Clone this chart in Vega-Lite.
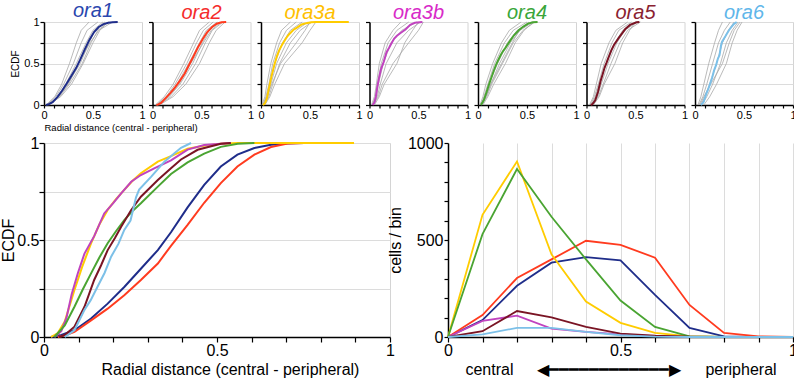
{
"$schema":"https://vega.github.io/schema/vega-lite/v6.json",
"background":"white",
"padding":{"left":0,"top":0,"right":0,"bottom":0},
"bounds":"flush",
"columns":7,
"spacing":{"row":38,"column":10.5},
"datasets":{
"mean":[
{"g":"ora1","x":0.02,"y":0},{"g":"ora1","x":0.05,"y":0.01},{"g":"ora1","x":0.088,"y":0.035},{"g":"ora1","x":0.136,"y":0.095},{"g":"ora1","x":0.184,"y":0.172},{"g":"ora1","x":0.232,"y":0.258},{"g":"ora1","x":0.28,"y":0.352},{"g":"ora1","x":0.329,"y":0.448},{"g":"ora1","x":0.367,"y":0.54},{"g":"ora1","x":0.415,"y":0.668},{"g":"ora1","x":0.463,"y":0.784},{"g":"ora1","x":0.511,"y":0.879},{"g":"ora1","x":0.559,"y":0.94},{"g":"ora1","x":0.608,"y":0.974},{"g":"ora1","x":0.656,"y":0.991},{"g":"ora1","x":0.7,"y":0.998},{"g":"ora1","x":0.752,"y":1},
{"g":"ora2","x":0.04,"y":0},{"g":"ora2","x":0.06,"y":0.008},{"g":"ora2","x":0.088,"y":0.026},{"g":"ora2","x":0.136,"y":0.086},{"g":"ora2","x":0.184,"y":0.146},{"g":"ora2","x":0.232,"y":0.215},{"g":"ora2","x":0.28,"y":0.294},{"g":"ora2","x":0.329,"y":0.379},{"g":"ora2","x":0.367,"y":0.47},{"g":"ora2","x":0.415,"y":0.578},{"g":"ora2","x":0.463,"y":0.692},{"g":"ora2","x":0.511,"y":0.793},{"g":"ora2","x":0.559,"y":0.879},{"g":"ora2","x":0.608,"y":0.94},{"g":"ora2","x":0.656,"y":0.979},{"g":"ora2","x":0.704,"y":0.997},{"g":"ora2","x":0.752,"y":1},
{"g":"ora3a","x":0.02,"y":0},{"g":"ora3a","x":0.04,"y":0.02},{"g":"ora3a","x":0.06,"y":0.08},{"g":"ora3a","x":0.088,"y":0.242},{"g":"ora3a","x":0.11,"y":0.36},{"g":"ora3a","x":0.136,"y":0.483},{"g":"ora3a","x":0.16,"y":0.58},{"g":"ora3a","x":0.184,"y":0.655},{"g":"ora3a","x":0.208,"y":0.71},{"g":"ora3a","x":0.232,"y":0.758},{"g":"ora3a","x":0.256,"y":0.805},{"g":"ora3a","x":0.28,"y":0.844},{"g":"ora3a","x":0.329,"y":0.904},{"g":"ora3a","x":0.367,"y":0.932},{"g":"ora3a","x":0.415,"y":0.97},{"g":"ora3a","x":0.463,"y":0.986},{"g":"ora3a","x":0.511,"y":0.996},{"g":"ora3a","x":0.56,"y":1},{"g":"ora3a","x":0.896,"y":1},
{"g":"ora3b","x":0.03,"y":0},{"g":"ora3b","x":0.05,"y":0.03},{"g":"ora3b","x":0.065,"y":0.1},{"g":"ora3b","x":0.08,"y":0.22},{"g":"ora3b","x":0.098,"y":0.33},{"g":"ora3b","x":0.117,"y":0.43},{"g":"ora3b","x":0.145,"y":0.52},{"g":"ora3b","x":0.174,"y":0.637},{"g":"ora3b","x":0.2,"y":0.69},{"g":"ora3b","x":0.223,"y":0.74},{"g":"ora3b","x":0.252,"y":0.8},{"g":"ora3b","x":0.28,"y":0.835},{"g":"ora3b","x":0.32,"y":0.87},{"g":"ora3b","x":0.367,"y":0.91},{"g":"ora3b","x":0.415,"y":0.966},{"g":"ora3b","x":0.463,"y":0.99},{"g":"ora3b","x":0.54,"y":1},
{"g":"ora4","x":0.03,"y":0},{"g":"ora4","x":0.06,"y":0.06},{"g":"ora4","x":0.088,"y":0.156},{"g":"ora4","x":0.112,"y":0.245},{"g":"ora4","x":0.136,"y":0.328},{"g":"ora4","x":0.16,"y":0.41},{"g":"ora4","x":0.184,"y":0.483},{"g":"ora4","x":0.208,"y":0.545},{"g":"ora4","x":0.232,"y":0.603},{"g":"ora4","x":0.256,"y":0.65},{"g":"ora4","x":0.28,"y":0.689},{"g":"ora4","x":0.329,"y":0.775},{"g":"ora4","x":0.367,"y":0.84},{"g":"ora4","x":0.415,"y":0.9},{"g":"ora4","x":0.463,"y":0.945},{"g":"ora4","x":0.511,"y":0.98},{"g":"ora4","x":0.56,"y":0.996},{"g":"ora4","x":0.608,"y":1},
{"g":"ora5","x":0.043,"y":0},{"g":"ora5","x":0.06,"y":0.01},{"g":"ora5","x":0.088,"y":0.053},{"g":"ora5","x":0.117,"y":0.156},{"g":"ora5","x":0.145,"y":0.294},{"g":"ora5","x":0.165,"y":0.37},{"g":"ora5","x":0.184,"y":0.448},{"g":"ora5","x":0.205,"y":0.51},{"g":"ora5","x":0.223,"y":0.568},{"g":"ora5","x":0.252,"y":0.655},{"g":"ora5","x":0.28,"y":0.723},{"g":"ora5","x":0.329,"y":0.809},{"g":"ora5","x":0.367,"y":0.87},{"g":"ora5","x":0.396,"y":0.915},{"g":"ora5","x":0.444,"y":0.965},{"g":"ora5","x":0.511,"y":0.996},{"g":"ora5","x":0.54,"y":1},
{"g":"ora6","x":0.06,"y":0},{"g":"ora6","x":0.088,"y":0.035},{"g":"ora6","x":0.117,"y":0.14},{"g":"ora6","x":0.135,"y":0.19},{"g":"ora6","x":0.155,"y":0.26},{"g":"ora6","x":0.175,"y":0.33},{"g":"ora6","x":0.194,"y":0.414},{"g":"ora6","x":0.215,"y":0.48},{"g":"ora6","x":0.232,"y":0.552},{"g":"ora6","x":0.25,"y":0.6},{"g":"ora6","x":0.258,"y":0.66},{"g":"ora6","x":0.266,"y":0.72},{"g":"ora6","x":0.275,"y":0.76},{"g":"ora6","x":0.31,"y":0.827},{"g":"ora6","x":0.348,"y":0.904},{"g":"ora6","x":0.377,"y":0.947},{"g":"ora6","x":0.396,"y":0.975},{"g":"ora6","x":0.425,"y":1}
],
"hist":[
{"g":"ora1","x":0,"n":0},{"g":"ora1","x":0.1,"n":87},{"g":"ora1","x":0.2,"n":264},{"g":"ora1","x":0.3,"n":383},{"g":"ora1","x":0.4,"n":412},{"g":"ora1","x":0.5,"n":395},{"g":"ora1","x":0.6,"n":217},{"g":"ora1","x":0.7,"n":47},{"g":"ora1","x":0.8,"n":3},{"g":"ora1","x":0.9,"n":0},{"g":"ora1","x":1,"n":0},
{"g":"ora2","x":0,"n":0},{"g":"ora2","x":0.1,"n":113},{"g":"ora2","x":0.2,"n":304},{"g":"ora2","x":0.3,"n":400},{"g":"ora2","x":0.4,"n":496},{"g":"ora2","x":0.5,"n":475},{"g":"ora2","x":0.6,"n":409},{"g":"ora2","x":0.7,"n":165},{"g":"ora2","x":0.8,"n":21},{"g":"ora2","x":0.9,"n":3},{"g":"ora2","x":1,"n":0},
{"g":"ora3a","x":0,"n":0},{"g":"ora3a","x":0.1,"n":630},{"g":"ora3a","x":0.2,"n":905},{"g":"ora3a","x":0.3,"n":426},{"g":"ora3a","x":0.4,"n":183},{"g":"ora3a","x":0.5,"n":73},{"g":"ora3a","x":0.6,"n":21},{"g":"ora3a","x":0.7,"n":3},{"g":"ora3a","x":0.8,"n":0},{"g":"ora3a","x":0.9,"n":0},{"g":"ora3a","x":1,"n":0},
{"g":"ora3b","x":0,"n":0},{"g":"ora3b","x":0.1,"n":83},{"g":"ora3b","x":0.2,"n":110},{"g":"ora3b","x":0.3,"n":43},{"g":"ora3b","x":0.4,"n":26},{"g":"ora3b","x":0.5,"n":14},{"g":"ora3b","x":0.6,"n":5},{"g":"ora3b","x":0.7,"n":0},{"g":"ora3b","x":0.8,"n":0},{"g":"ora3b","x":0.9,"n":0},{"g":"ora3b","x":1,"n":0},
{"g":"ora4","x":0,"n":0},{"g":"ora4","x":0.1,"n":530},{"g":"ora4","x":0.2,"n":866},{"g":"ora4","x":0.3,"n":620},{"g":"ora4","x":0.4,"n":400},{"g":"ora4","x":0.5,"n":188},{"g":"ora4","x":0.6,"n":52},{"g":"ora4","x":0.7,"n":3},{"g":"ora4","x":0.8,"n":0},{"g":"ora4","x":0.9,"n":0},{"g":"ora4","x":1,"n":0},
{"g":"ora5","x":0,"n":0},{"g":"ora5","x":0.1,"n":30},{"g":"ora5","x":0.2,"n":134},{"g":"ora5","x":0.3,"n":101},{"g":"ora5","x":0.4,"n":52},{"g":"ora5","x":0.5,"n":17},{"g":"ora5","x":0.6,"n":7},{"g":"ora5","x":0.7,"n":2},{"g":"ora5","x":0.8,"n":0},{"g":"ora5","x":0.9,"n":0},{"g":"ora5","x":1,"n":0},
{"g":"ora6","x":0,"n":0},{"g":"ora6","x":0.1,"n":14},{"g":"ora6","x":0.2,"n":47},{"g":"ora6","x":0.3,"n":47},{"g":"ora6","x":0.4,"n":26},{"g":"ora6","x":0.5,"n":9},{"g":"ora6","x":0.6,"n":2},{"g":"ora6","x":0.7,"n":0},{"g":"ora6","x":0.8,"n":0},{"g":"ora6","x":0.9,"n":0},{"g":"ora6","x":1,"n":0}
],
"gray":[
{"g":"ora1","c":1,"x":0.02,"y":0},{"g":"ora1","c":1,"x":0.11,"y":0.1},{"g":"ora1","c":1,"x":0.18,"y":0.25},{"g":"ora1","c":1,"x":0.26,"y":0.5},{"g":"ora1","c":1,"x":0.33,"y":0.75},{"g":"ora1","c":1,"x":0.38,"y":0.9},{"g":"ora1","c":1,"x":0.46,"y":1},
{"g":"ora1","c":2,"x":0.03,"y":0},{"g":"ora1","c":2,"x":0.12,"y":0.1},{"g":"ora1","c":2,"x":0.2,"y":0.25},{"g":"ora1","c":2,"x":0.3,"y":0.5},{"g":"ora1","c":2,"x":0.38,"y":0.75},{"g":"ora1","c":2,"x":0.44,"y":0.9},{"g":"ora1","c":2,"x":0.55,"y":1},
{"g":"ora1","c":3,"x":0.04,"y":0},{"g":"ora1","c":3,"x":0.14,"y":0.1},{"g":"ora1","c":3,"x":0.22,"y":0.25},{"g":"ora1","c":3,"x":0.33,"y":0.5},{"g":"ora1","c":3,"x":0.43,"y":0.75},{"g":"ora1","c":3,"x":0.5,"y":0.9},{"g":"ora1","c":3,"x":0.6,"y":1},
{"g":"ora1","c":4,"x":0.03,"y":0},{"g":"ora1","c":4,"x":0.15,"y":0.1},{"g":"ora1","c":4,"x":0.24,"y":0.25},{"g":"ora1","c":4,"x":0.37,"y":0.5},{"g":"ora1","c":4,"x":0.46,"y":0.75},{"g":"ora1","c":4,"x":0.52,"y":0.9},{"g":"ora1","c":4,"x":0.62,"y":1},
{"g":"ora1","c":5,"x":0.05,"y":0},{"g":"ora1","c":5,"x":0.16,"y":0.1},{"g":"ora1","c":5,"x":0.26,"y":0.25},{"g":"ora1","c":5,"x":0.39,"y":0.5},{"g":"ora1","c":5,"x":0.48,"y":0.75},{"g":"ora1","c":5,"x":0.55,"y":0.9},{"g":"ora1","c":5,"x":0.66,"y":1},
{"g":"ora1","c":6,"x":0.04,"y":0},{"g":"ora1","c":6,"x":0.17,"y":0.1},{"g":"ora1","c":6,"x":0.28,"y":0.25},{"g":"ora1","c":6,"x":0.4,"y":0.5},{"g":"ora1","c":6,"x":0.5,"y":0.75},{"g":"ora1","c":6,"x":0.57,"y":0.9},{"g":"ora1","c":6,"x":0.65,"y":1},
{"g":"ora1","c":7,"x":0.06,"y":0},{"g":"ora1","c":7,"x":0.15,"y":0.1},{"g":"ora1","c":7,"x":0.25,"y":0.25},{"g":"ora1","c":7,"x":0.35,"y":0.5},{"g":"ora1","c":7,"x":0.47,"y":0.75},{"g":"ora1","c":7,"x":0.56,"y":0.9},{"g":"ora1","c":7,"x":0.7,"y":1},
{"g":"ora2","c":1,"x":0.03,"y":0},{"g":"ora2","c":1,"x":0.12,"y":0.1},{"g":"ora2","c":1,"x":0.21,"y":0.25},{"g":"ora2","c":1,"x":0.32,"y":0.5},{"g":"ora2","c":1,"x":0.42,"y":0.75},{"g":"ora2","c":1,"x":0.48,"y":0.9},{"g":"ora2","c":1,"x":0.58,"y":1},
{"g":"ora2","c":2,"x":0.04,"y":0},{"g":"ora2","c":2,"x":0.14,"y":0.1},{"g":"ora2","c":2,"x":0.23,"y":0.25},{"g":"ora2","c":2,"x":0.35,"y":0.5},{"g":"ora2","c":2,"x":0.45,"y":0.75},{"g":"ora2","c":2,"x":0.52,"y":0.9},{"g":"ora2","c":2,"x":0.62,"y":1},
{"g":"ora2","c":3,"x":0.05,"y":0},{"g":"ora2","c":3,"x":0.15,"y":0.1},{"g":"ora2","c":3,"x":0.25,"y":0.25},{"g":"ora2","c":3,"x":0.37,"y":0.5},{"g":"ora2","c":3,"x":0.48,"y":0.75},{"g":"ora2","c":3,"x":0.55,"y":0.9},{"g":"ora2","c":3,"x":0.66,"y":1},
{"g":"ora2","c":4,"x":0.04,"y":0},{"g":"ora2","c":4,"x":0.17,"y":0.1},{"g":"ora2","c":4,"x":0.28,"y":0.25},{"g":"ora2","c":4,"x":0.41,"y":0.5},{"g":"ora2","c":4,"x":0.51,"y":0.75},{"g":"ora2","c":4,"x":0.58,"y":0.9},{"g":"ora2","c":4,"x":0.68,"y":1},
{"g":"ora2","c":5,"x":0.06,"y":0},{"g":"ora2","c":5,"x":0.19,"y":0.1},{"g":"ora2","c":5,"x":0.31,"y":0.25},{"g":"ora2","c":5,"x":0.44,"y":0.5},{"g":"ora2","c":5,"x":0.54,"y":0.75},{"g":"ora2","c":5,"x":0.61,"y":0.9},{"g":"ora2","c":5,"x":0.72,"y":1},
{"g":"ora2","c":6,"x":0.07,"y":0},{"g":"ora2","c":6,"x":0.21,"y":0.1},{"g":"ora2","c":6,"x":0.34,"y":0.25},{"g":"ora2","c":6,"x":0.48,"y":0.5},{"g":"ora2","c":6,"x":0.58,"y":0.75},{"g":"ora2","c":6,"x":0.65,"y":0.9},{"g":"ora2","c":6,"x":0.74,"y":1},
{"g":"ora2","c":7,"x":0.05,"y":0},{"g":"ora2","c":7,"x":0.16,"y":0.1},{"g":"ora2","c":7,"x":0.27,"y":0.25},{"g":"ora2","c":7,"x":0.39,"y":0.5},{"g":"ora2","c":7,"x":0.52,"y":0.75},{"g":"ora2","c":7,"x":0.6,"y":0.9},{"g":"ora2","c":7,"x":0.7,"y":1},
{"g":"ora3a","c":1,"x":0.01,"y":0},{"g":"ora3a","c":1,"x":0.04,"y":0.1},{"g":"ora3a","c":1,"x":0.06,"y":0.25},{"g":"ora3a","c":1,"x":0.1,"y":0.5},{"g":"ora3a","c":1,"x":0.16,"y":0.75},{"g":"ora3a","c":1,"x":0.21,"y":0.9},{"g":"ora3a","c":1,"x":0.3,"y":1},
{"g":"ora3a","c":2,"x":0.02,"y":0},{"g":"ora3a","c":2,"x":0.05,"y":0.1},{"g":"ora3a","c":2,"x":0.08,"y":0.25},{"g":"ora3a","c":2,"x":0.12,"y":0.5},{"g":"ora3a","c":2,"x":0.19,"y":0.75},{"g":"ora3a","c":2,"x":0.26,"y":0.9},{"g":"ora3a","c":2,"x":0.36,"y":1},
{"g":"ora3a","c":3,"x":0.02,"y":0},{"g":"ora3a","c":3,"x":0.06,"y":0.1},{"g":"ora3a","c":3,"x":0.09,"y":0.25},{"g":"ora3a","c":3,"x":0.14,"y":0.5},{"g":"ora3a","c":3,"x":0.22,"y":0.75},{"g":"ora3a","c":3,"x":0.3,"y":0.9},{"g":"ora3a","c":3,"x":0.42,"y":1},
{"g":"ora3a","c":4,"x":0.03,"y":0},{"g":"ora3a","c":4,"x":0.07,"y":0.1},{"g":"ora3a","c":4,"x":0.1,"y":0.25},{"g":"ora3a","c":4,"x":0.16,"y":0.5},{"g":"ora3a","c":4,"x":0.26,"y":0.75},{"g":"ora3a","c":4,"x":0.36,"y":0.9},{"g":"ora3a","c":4,"x":0.48,"y":1},
{"g":"ora3a","c":5,"x":0.03,"y":0},{"g":"ora3a","c":5,"x":0.08,"y":0.1},{"g":"ora3a","c":5,"x":0.12,"y":0.25},{"g":"ora3a","c":5,"x":0.19,"y":0.5},{"g":"ora3a","c":5,"x":0.3,"y":0.75},{"g":"ora3a","c":5,"x":0.4,"y":0.9},{"g":"ora3a","c":5,"x":0.52,"y":1},
{"g":"ora3a","c":6,"x":0.04,"y":0},{"g":"ora3a","c":6,"x":0.09,"y":0.1},{"g":"ora3a","c":6,"x":0.14,"y":0.25},{"g":"ora3a","c":6,"x":0.24,"y":0.5},{"g":"ora3a","c":6,"x":0.42,"y":0.75},{"g":"ora3a","c":6,"x":0.5,"y":0.9},{"g":"ora3a","c":6,"x":0.56,"y":1},
{"g":"ora3a","c":7,"x":0.02,"y":0},{"g":"ora3a","c":7,"x":0.06,"y":0.1},{"g":"ora3a","c":7,"x":0.11,"y":0.25},{"g":"ora3a","c":7,"x":0.2,"y":0.5},{"g":"ora3a","c":7,"x":0.36,"y":0.75},{"g":"ora3a","c":7,"x":0.45,"y":0.9},{"g":"ora3a","c":7,"x":0.5,"y":1},
{"g":"ora3b","c":1,"x":0.02,"y":0},{"g":"ora3b","c":1,"x":0.05,"y":0.1},{"g":"ora3b","c":1,"x":0.07,"y":0.25},{"g":"ora3b","c":1,"x":0.1,"y":0.5},{"g":"ora3b","c":1,"x":0.16,"y":0.75},{"g":"ora3b","c":1,"x":0.24,"y":0.9},{"g":"ora3b","c":1,"x":0.32,"y":1},
{"g":"ora3b","c":2,"x":0.03,"y":0},{"g":"ora3b","c":2,"x":0.06,"y":0.1},{"g":"ora3b","c":2,"x":0.08,"y":0.25},{"g":"ora3b","c":2,"x":0.12,"y":0.5},{"g":"ora3b","c":2,"x":0.19,"y":0.75},{"g":"ora3b","c":2,"x":0.28,"y":0.9},{"g":"ora3b","c":2,"x":0.4,"y":1},
{"g":"ora3b","c":3,"x":0.03,"y":0},{"g":"ora3b","c":3,"x":0.07,"y":0.1},{"g":"ora3b","c":3,"x":0.09,"y":0.25},{"g":"ora3b","c":3,"x":0.14,"y":0.5},{"g":"ora3b","c":3,"x":0.22,"y":0.75},{"g":"ora3b","c":3,"x":0.33,"y":0.9},{"g":"ora3b","c":3,"x":0.48,"y":1},
{"g":"ora3b","c":4,"x":0.04,"y":0},{"g":"ora3b","c":4,"x":0.08,"y":0.1},{"g":"ora3b","c":4,"x":0.11,"y":0.25},{"g":"ora3b","c":4,"x":0.17,"y":0.5},{"g":"ora3b","c":4,"x":0.28,"y":0.75},{"g":"ora3b","c":4,"x":0.4,"y":0.9},{"g":"ora3b","c":4,"x":0.52,"y":1},
{"g":"ora3b","c":5,"x":0.04,"y":0},{"g":"ora3b","c":5,"x":0.09,"y":0.1},{"g":"ora3b","c":5,"x":0.13,"y":0.25},{"g":"ora3b","c":5,"x":0.24,"y":0.5},{"g":"ora3b","c":5,"x":0.4,"y":0.75},{"g":"ora3b","c":5,"x":0.5,"y":0.9},{"g":"ora3b","c":5,"x":0.55,"y":1},
{"g":"ora3b","c":6,"x":0.05,"y":0},{"g":"ora3b","c":6,"x":0.1,"y":0.1},{"g":"ora3b","c":6,"x":0.15,"y":0.25},{"g":"ora3b","c":6,"x":0.28,"y":0.5},{"g":"ora3b","c":6,"x":0.36,"y":0.75},{"g":"ora3b","c":6,"x":0.44,"y":0.9},{"g":"ora3b","c":6,"x":0.5,"y":1},
{"g":"ora4","c":1,"x":0.02,"y":0},{"g":"ora4","c":1,"x":0.05,"y":0.1},{"g":"ora4","c":1,"x":0.08,"y":0.25},{"g":"ora4","c":1,"x":0.15,"y":0.5},{"g":"ora4","c":1,"x":0.24,"y":0.75},{"g":"ora4","c":1,"x":0.32,"y":0.9},{"g":"ora4","c":1,"x":0.44,"y":1},
{"g":"ora4","c":2,"x":0.03,"y":0},{"g":"ora4","c":2,"x":0.06,"y":0.1},{"g":"ora4","c":2,"x":0.1,"y":0.25},{"g":"ora4","c":2,"x":0.17,"y":0.5},{"g":"ora4","c":2,"x":0.27,"y":0.75},{"g":"ora4","c":2,"x":0.36,"y":0.9},{"g":"ora4","c":2,"x":0.5,"y":1},
{"g":"ora4","c":3,"x":0.03,"y":0},{"g":"ora4","c":3,"x":0.07,"y":0.1},{"g":"ora4","c":3,"x":0.11,"y":0.25},{"g":"ora4","c":3,"x":0.2,"y":0.5},{"g":"ora4","c":3,"x":0.3,"y":0.75},{"g":"ora4","c":3,"x":0.4,"y":0.9},{"g":"ora4","c":3,"x":0.55,"y":1},
{"g":"ora4","c":4,"x":0.04,"y":0},{"g":"ora4","c":4,"x":0.08,"y":0.1},{"g":"ora4","c":4,"x":0.13,"y":0.25},{"g":"ora4","c":4,"x":0.22,"y":0.5},{"g":"ora4","c":4,"x":0.33,"y":0.75},{"g":"ora4","c":4,"x":0.43,"y":0.9},{"g":"ora4","c":4,"x":0.56,"y":1},
{"g":"ora4","c":5,"x":0.04,"y":0},{"g":"ora4","c":5,"x":0.09,"y":0.1},{"g":"ora4","c":5,"x":0.14,"y":0.25},{"g":"ora4","c":5,"x":0.25,"y":0.5},{"g":"ora4","c":5,"x":0.36,"y":0.75},{"g":"ora4","c":5,"x":0.46,"y":0.9},{"g":"ora4","c":5,"x":0.58,"y":1},
{"g":"ora4","c":6,"x":0.05,"y":0},{"g":"ora4","c":6,"x":0.1,"y":0.1},{"g":"ora4","c":6,"x":0.16,"y":0.25},{"g":"ora4","c":6,"x":0.28,"y":0.5},{"g":"ora4","c":6,"x":0.38,"y":0.75},{"g":"ora4","c":6,"x":0.47,"y":0.9},{"g":"ora4","c":6,"x":0.57,"y":1},
{"g":"ora4","c":7,"x":0.03,"y":0},{"g":"ora4","c":7,"x":0.08,"y":0.1},{"g":"ora4","c":7,"x":0.13,"y":0.25},{"g":"ora4","c":7,"x":0.24,"y":0.5},{"g":"ora4","c":7,"x":0.35,"y":0.75},{"g":"ora4","c":7,"x":0.42,"y":0.9},{"g":"ora4","c":7,"x":0.52,"y":1},
{"g":"ora5","c":1,"x":0.03,"y":0},{"g":"ora5","c":1,"x":0.07,"y":0.1},{"g":"ora5","c":1,"x":0.1,"y":0.25},{"g":"ora5","c":1,"x":0.15,"y":0.5},{"g":"ora5","c":1,"x":0.23,"y":0.75},{"g":"ora5","c":1,"x":0.3,"y":0.9},{"g":"ora5","c":1,"x":0.42,"y":1},
{"g":"ora5","c":2,"x":0.04,"y":0},{"g":"ora5","c":2,"x":0.08,"y":0.1},{"g":"ora5","c":2,"x":0.12,"y":0.25},{"g":"ora5","c":2,"x":0.18,"y":0.5},{"g":"ora5","c":2,"x":0.26,"y":0.75},{"g":"ora5","c":2,"x":0.33,"y":0.9},{"g":"ora5","c":2,"x":0.46,"y":1},
{"g":"ora5","c":3,"x":0.05,"y":0},{"g":"ora5","c":3,"x":0.09,"y":0.1},{"g":"ora5","c":3,"x":0.13,"y":0.25},{"g":"ora5","c":3,"x":0.2,"y":0.5},{"g":"ora5","c":3,"x":0.29,"y":0.75},{"g":"ora5","c":3,"x":0.37,"y":0.9},{"g":"ora5","c":3,"x":0.5,"y":1},
{"g":"ora5","c":4,"x":0.05,"y":0},{"g":"ora5","c":4,"x":0.11,"y":0.1},{"g":"ora5","c":4,"x":0.15,"y":0.25},{"g":"ora5","c":4,"x":0.22,"y":0.5},{"g":"ora5","c":4,"x":0.31,"y":0.75},{"g":"ora5","c":4,"x":0.39,"y":0.9},{"g":"ora5","c":4,"x":0.52,"y":1},
{"g":"ora5","c":5,"x":0.06,"y":0},{"g":"ora5","c":5,"x":0.12,"y":0.1},{"g":"ora5","c":5,"x":0.17,"y":0.25},{"g":"ora5","c":5,"x":0.25,"y":0.5},{"g":"ora5","c":5,"x":0.34,"y":0.75},{"g":"ora5","c":5,"x":0.42,"y":0.9},{"g":"ora5","c":5,"x":0.55,"y":1},
{"g":"ora5","c":6,"x":0.07,"y":0},{"g":"ora5","c":6,"x":0.13,"y":0.1},{"g":"ora5","c":6,"x":0.18,"y":0.25},{"g":"ora5","c":6,"x":0.29,"y":0.5},{"g":"ora5","c":6,"x":0.37,"y":0.75},{"g":"ora5","c":6,"x":0.44,"y":0.9},{"g":"ora5","c":6,"x":0.5,"y":1},
{"g":"ora6","c":1,"x":0.03,"y":0},{"g":"ora6","c":1,"x":0.06,"y":0.1},{"g":"ora6","c":1,"x":0.09,"y":0.25},{"g":"ora6","c":1,"x":0.14,"y":0.5},{"g":"ora6","c":1,"x":0.2,"y":0.75},{"g":"ora6","c":1,"x":0.24,"y":0.9},{"g":"ora6","c":1,"x":0.28,"y":1},
{"g":"ora6","c":2,"x":0.04,"y":0},{"g":"ora6","c":2,"x":0.08,"y":0.1},{"g":"ora6","c":2,"x":0.12,"y":0.25},{"g":"ora6","c":2,"x":0.18,"y":0.5},{"g":"ora6","c":2,"x":0.24,"y":0.75},{"g":"ora6","c":2,"x":0.3,"y":0.9},{"g":"ora6","c":2,"x":0.36,"y":1},
{"g":"ora6","c":3,"x":0.06,"y":0},{"g":"ora6","c":3,"x":0.1,"y":0.1},{"g":"ora6","c":3,"x":0.15,"y":0.25},{"g":"ora6","c":3,"x":0.22,"y":0.5},{"g":"ora6","c":3,"x":0.28,"y":0.75},{"g":"ora6","c":3,"x":0.34,"y":0.9},{"g":"ora6","c":3,"x":0.4,"y":1},
{"g":"ora6","c":4,"x":0.07,"y":0},{"g":"ora6","c":4,"x":0.12,"y":0.1},{"g":"ora6","c":4,"x":0.18,"y":0.25},{"g":"ora6","c":4,"x":0.26,"y":0.5},{"g":"ora6","c":4,"x":0.32,"y":0.75},{"g":"ora6","c":4,"x":0.38,"y":0.9},{"g":"ora6","c":4,"x":0.44,"y":1},
{"g":"ora6","c":5,"x":0.09,"y":0},{"g":"ora6","c":5,"x":0.15,"y":0.1},{"g":"ora6","c":5,"x":0.22,"y":0.25},{"g":"ora6","c":5,"x":0.32,"y":0.5},{"g":"ora6","c":5,"x":0.38,"y":0.75},{"g":"ora6","c":5,"x":0.43,"y":0.9},{"g":"ora6","c":5,"x":0.48,"y":1},
{"g":"ora6","c":6,"x":0.05,"y":0},{"g":"ora6","c":6,"x":0.09,"y":0.1},{"g":"ora6","c":6,"x":0.16,"y":0.25},{"g":"ora6","c":6,"x":0.28,"y":0.5},{"g":"ora6","c":6,"x":0.35,"y":0.75},{"g":"ora6","c":6,"x":0.4,"y":0.9},{"g":"ora6","c":6,"x":0.46,"y":1}
]
},
"concat":[
{"width":98,"height":83,"title":{"text":"ora1","color":"#2a46ae"},
"encoding":{"x":{"field":"x","type":"quantitative","scale":{"domain":[0,1]},"axis":{"values":[0,0.1,0.2,0.3,0.4,0.5,0.6,0.7,0.8,0.9,1],"labelExpr":"datum.value==0||datum.value==0.5||datum.value==1?datum.label:''","grid":false,"title":"Radial distance (central - peripheral)","titleAnchor":"start","titleFontSize":9.5,"titlePadding":2,"labelFontSize":11,"tickSize":3}},"y":{"field":"y","type":"quantitative","scale":{"domain":[0,1]},"axis":{"values":[0,0.25,0.5,0.75,1],"labelExpr":"datum.value==0||datum.value==0.5||datum.value==1?datum.label:''","grid":true,"title":"ECDF","titleFontSize":10,"titlePadding":3,"labelFontSize":11,"tickSize":4}}},
"layer":[
{"data":{"name":"gray"},"transform":[{"filter":"datum.g=='ora1'"}],"mark":{"type":"line","color":"#a8a8a8","strokeWidth":0.8},"encoding":{"detail":{"field":"c","type":"nominal"}}},
{"data":{"name":"mean"},"transform":[{"filter":"datum.g=='ora1'"}],"mark":{"type":"line","color":"#1f2d8a","strokeWidth":2}}]},
{"width":98,"height":83,"title":{"text":"ora2","color":"#f52c2c"},
"encoding":{"x":{"field":"x","type":"quantitative","scale":{"domain":[0,1]},"axis":{"values":[0,0.1,0.2,0.3,0.4,0.5,0.6,0.7,0.8,0.9,1],"labelExpr":"datum.value==0||datum.value==0.5||datum.value==1?datum.label:''","grid":false,"title":null,"labelFontSize":11,"tickSize":3}},"y":{"field":"y","type":"quantitative","scale":{"domain":[0,1]},"axis":{"values":[0,0.25,0.5,0.75,1],"labels":false,"grid":true,"title":null,"tickSize":4}}},
"layer":[
{"data":{"name":"gray"},"transform":[{"filter":"datum.g=='ora2'"}],"mark":{"type":"line","color":"#a8a8a8","strokeWidth":0.8},"encoding":{"detail":{"field":"c","type":"nominal"}}},
{"data":{"name":"mean"},"transform":[{"filter":"datum.g=='ora2'"}],"mark":{"type":"line","color":"#ff3b1f","strokeWidth":2}}]},
{"width":98,"height":83,"title":{"text":"ora3a","color":"#ffc000"},
"encoding":{"x":{"field":"x","type":"quantitative","scale":{"domain":[0,1]},"axis":{"values":[0,0.1,0.2,0.3,0.4,0.5,0.6,0.7,0.8,0.9,1],"labelExpr":"datum.value==0||datum.value==0.5||datum.value==1?datum.label:''","grid":false,"title":null,"labelFontSize":11,"tickSize":3}},"y":{"field":"y","type":"quantitative","scale":{"domain":[0,1]},"axis":{"values":[0,0.25,0.5,0.75,1],"labels":false,"grid":true,"title":null,"tickSize":4}}},
"layer":[
{"data":{"name":"gray"},"transform":[{"filter":"datum.g=='ora3a'"}],"mark":{"type":"line","color":"#a8a8a8","strokeWidth":0.8},"encoding":{"detail":{"field":"c","type":"nominal"}}},
{"data":{"name":"mean"},"transform":[{"filter":"datum.g=='ora3a'"}],"mark":{"type":"line","color":"#ffcc00","strokeWidth":2}}]},
{"width":98,"height":83,"title":{"text":"ora3b","color":"#d82ac8"},
"encoding":{"x":{"field":"x","type":"quantitative","scale":{"domain":[0,1]},"axis":{"values":[0,0.1,0.2,0.3,0.4,0.5,0.6,0.7,0.8,0.9,1],"labelExpr":"datum.value==0||datum.value==0.5||datum.value==1?datum.label:''","grid":false,"title":null,"labelFontSize":11,"tickSize":3}},"y":{"field":"y","type":"quantitative","scale":{"domain":[0,1]},"axis":{"values":[0,0.25,0.5,0.75,1],"labels":false,"grid":true,"title":null,"tickSize":4}}},
"layer":[
{"data":{"name":"gray"},"transform":[{"filter":"datum.g=='ora3b'"}],"mark":{"type":"line","color":"#a8a8a8","strokeWidth":0.8},"encoding":{"detail":{"field":"c","type":"nominal"}}},
{"data":{"name":"mean"},"transform":[{"filter":"datum.g=='ora3b'"}],"mark":{"type":"line","color":"#c043bf","strokeWidth":2}}]},
{"width":98,"height":83,"title":{"text":"ora4","color":"#3aa63a"},
"encoding":{"x":{"field":"x","type":"quantitative","scale":{"domain":[0,1]},"axis":{"values":[0,0.1,0.2,0.3,0.4,0.5,0.6,0.7,0.8,0.9,1],"labelExpr":"datum.value==0||datum.value==0.5||datum.value==1?datum.label:''","grid":false,"title":null,"labelFontSize":11,"tickSize":3}},"y":{"field":"y","type":"quantitative","scale":{"domain":[0,1]},"axis":{"values":[0,0.25,0.5,0.75,1],"labels":false,"grid":true,"title":null,"tickSize":4}}},
"layer":[
{"data":{"name":"gray"},"transform":[{"filter":"datum.g=='ora4'"}],"mark":{"type":"line","color":"#a8a8a8","strokeWidth":0.8},"encoding":{"detail":{"field":"c","type":"nominal"}}},
{"data":{"name":"mean"},"transform":[{"filter":"datum.g=='ora4'"}],"mark":{"type":"line","color":"#4aa432","strokeWidth":2}}]},
{"width":98,"height":83,"title":{"text":"ora5","color":"#8a2230"},
"encoding":{"x":{"field":"x","type":"quantitative","scale":{"domain":[0,1]},"axis":{"values":[0,0.1,0.2,0.3,0.4,0.5,0.6,0.7,0.8,0.9,1],"labelExpr":"datum.value==0||datum.value==0.5||datum.value==1?datum.label:''","grid":false,"title":null,"labelFontSize":11,"tickSize":3}},"y":{"field":"y","type":"quantitative","scale":{"domain":[0,1]},"axis":{"values":[0,0.25,0.5,0.75,1],"labels":false,"grid":true,"title":null,"tickSize":4}}},
"layer":[
{"data":{"name":"gray"},"transform":[{"filter":"datum.g=='ora5'"}],"mark":{"type":"line","color":"#a8a8a8","strokeWidth":0.8},"encoding":{"detail":{"field":"c","type":"nominal"}}},
{"data":{"name":"mean"},"transform":[{"filter":"datum.g=='ora5'"}],"mark":{"type":"line","color":"#7a1424","strokeWidth":2}}]},
{"width":98,"height":83,"title":{"text":"ora6","color":"#5fb6ea"},
"encoding":{"x":{"field":"x","type":"quantitative","scale":{"domain":[0,1]},"axis":{"values":[0,0.1,0.2,0.3,0.4,0.5,0.6,0.7,0.8,0.9,1],"labelExpr":"datum.value==0||datum.value==0.5||datum.value==1?datum.label:''","grid":false,"title":null,"labelFontSize":11,"tickSize":3}},"y":{"field":"y","type":"quantitative","scale":{"domain":[0,1]},"axis":{"values":[0,0.25,0.5,0.75,1],"labels":false,"grid":true,"title":null,"tickSize":4}}},
"layer":[
{"data":{"name":"gray"},"transform":[{"filter":"datum.g=='ora6'"}],"mark":{"type":"line","color":"#a8a8a8","strokeWidth":0.8},"encoding":{"detail":{"field":"c","type":"nominal"}}},
{"data":{"name":"mean"},"transform":[{"filter":"datum.g=='ora6'"}],"mark":{"type":"line","color":"#7cc0e8","strokeWidth":2}}]},
{"bounds":"flush","spacing":58,"hconcat":[
{"width":346,"height":194,"data":{"name":"mean"},"mark":{"type":"line","strokeWidth":2},
"encoding":{
"x":{"field":"x","type":"quantitative","scale":{"domain":[0,1]},"axis":{"values":[0,0.1,0.2,0.3,0.4,0.5,0.6,0.7,0.8,0.9,1],"labelExpr":"datum.value==0||datum.value==0.5||datum.value==1?datum.label:''","grid":false,"title":"Radial distance (central - peripheral)","titleX":186,"titleFontSize":16,"titlePadding":3,"labelFontSize":16,"labelPadding":0,"tickSize":5}},
"y":{"field":"y","type":"quantitative","scale":{"domain":[0,1]},"axis":{"values":[0,0.25,0.5,0.75,1],"labelExpr":"datum.value==0||datum.value==0.5||datum.value==1?datum.label:''","grid":true,"title":"ECDF","titleFontSize":16,"titlePadding":0,"labelFontSize":16,"labelPadding":0,"tickSize":5}},
"color":{"field":"g","type":"nominal","scale":{"domain":["ora1","ora2","ora3a","ora3b","ora4","ora5","ora6"],"range":["#1f2d8a","#ff3b1f","#ffcc00","#c043bf","#4aa432","#7a1424","#7cc0e8"]},"legend":null}}},
{"width":345,"height":194,"view":{"stroke":null},"data":{"name":"hist"},"mark":{"type":"line","strokeWidth":1.8},
"encoding":{
"x":{"field":"x","type":"quantitative","scale":{"domain":[0,1]},"axis":{"values":[0,0.1,0.2,0.3,0.4,0.5,0.6,0.7,0.8,0.9,1],"labelExpr":"datum.value==0||datum.value==0.5||datum.value==1?datum.label:''","grid":true,"title":"central\u2003\u2002◀━━━━━━━━━━━━▶\u2003\u2002peripheral","titleFontSize":16,"titlePadding":3,"labelFontSize":16,"labelPadding":0,"tickSize":5}},
"y":{"field":"n","type":"quantitative","scale":{"domain":[0,1000]},"axis":{"values":[0,100,200,300,400,500,600,700,800,900,1000],"labelExpr":"datum.value==0||datum.value==500||datum.value==1000?datum.label:''","grid":false,"title":"cells / bin","titleFontSize":16,"titlePadding":4,"labelFontSize":16,"tickSize":4}},
"color":{"field":"g","type":"nominal","scale":{"domain":["ora1","ora2","ora3a","ora3b","ora4","ora5","ora6"],"range":["#1f2d8a","#ff3b1f","#ffcc00","#c043bf","#4aa432","#7a1424","#7cc0e8"]},"legend":null}}}
]}
],
"config":{
"view":{"stroke":"#d4d4d4"},
"font":"Liberation Sans",
"axis":{"domainColor":"#000000","tickColor":"#000000","labelColor":"#000000","titleColor":"#000000","titleFontWeight":"normal","gridColor":"#dcdcdc","labelFont":"Liberation Sans","titleFont":"Liberation Sans","domainWidth":1.5,"tickWidth":1.2,"format":"~r","labelFlush":false,"labelOverlap":false,"labelPadding":1},
"title":{"fontSize":20,"fontStyle":"italic","fontWeight":"normal","font":"Liberation Sans","offset":-5,"anchor":"middle"}
}
}
